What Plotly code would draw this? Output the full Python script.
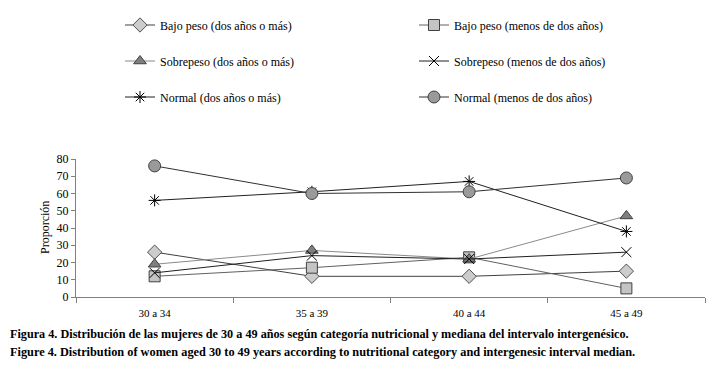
import plotly.graph_objects as go

categories = ["30 a 34", "35 a 39", "40 a 44", "45 a 49"]
bajo_dos = [26, 12, 12, 15]
bajo_menos = [12, 17, 23, 5]
sobre_dos = [19, 27, 22, 47]
sobre_menos = [14, 24, 22, 26]
normal_dos = [56, 61, 67, 38]
normal_menos = [76, 60, 61, 69]

names = [
    "Bajo peso (dos años o más)", "Bajo peso (menos de dos años)",
    "Sobrepeso (dos años o más)", "Sobrepeso (menos de dos años)",
    "Normal (dos años o más)", "Normal (menos de dos años)",
]
series = [bajo_dos, bajo_menos, sobre_dos, sobre_menos, normal_dos, normal_menos]
symbols = ["diamond", "square", "triangle-up", "x-thin", "asterisk", "circle"]
fills = ["#cccccc", "#c4c4c4", "#7f7f7f", "#000000", "#000000", "#9a9a9a"]
linecols = ["#404040", "#606060", "#8a8a8a", "#202020", "#202020", "#303030"]
mline = ["#505050", "#404040", "#404040", "#000000", "#000000", "#404040"]
sizes = [11, 11, 11, 10, 10, 12]

# page body adds an 8px margin, so the figure is sized to fit inside it
W, H = 710, 368
leg_pos = [(112, 17), (406, 17), (112, 53), (406, 53), (112, 89), (406, 89)]

fig = go.Figure()
for i, (nm, vals) in enumerate(zip(names, series)):
    leg = "legend" if i == 0 else f"legend{i+1}"
    fig.add_trace(go.Scatter(
        x=categories, y=vals, name=nm, mode="lines+markers",
        line=dict(color=linecols[i], width=1),
        marker=dict(symbol=symbols[i], size=sizes[i], color=fills[i],
                    line=dict(color=mline[i], width=1)),
        legend=leg,
    ))

font_fam = "Liberation Serif, serif"
legends = {}
for i, (px, py) in enumerate(leg_pos):
    key = "legend" if i == 0 else f"legend{i+1}"
    legends[key] = dict(
        x=px / W, y=1 - py / H, xref="container", yref="container",
        xanchor="left", yanchor="middle",
        font=dict(family=font_fam, size=12, color="#000"),
        bgcolor="rgba(0,0,0,0)", borderwidth=0,
    )

L, R, T, B = 68, 13, 151, 79
fig.update_layout(
    width=W, height=H,
    margin=dict(l=L, r=R, t=T, b=B, autoexpand=False),
    paper_bgcolor="white", plot_bgcolor="white",
    font=dict(family=font_fam, size=11, color="#000"),
    showlegend=True,
    xaxis=dict(
        type="category", tickson="boundaries", ticks="outside", ticklen=5,
        tickcolor="#808080", showline=True, linecolor="#808080", linewidth=1,
        showgrid=False, range=[-0.5, 3.5], zeroline=False, tickangle=0,
        ticklabelstandoff=6,
        tickfont=dict(family=font_fam, size=11),
    ),
    yaxis=dict(
        range=[0, 80], dtick=10, ticks="outside", ticklen=4, tickcolor="#808080",
        showline=True, linecolor="#808080", linewidth=1, showgrid=False,
        zeroline=False, tickfont=dict(family=font_fam, size=12),
    ),
    **legends,
)

pw, ph = W - L - R, H - T - B
fig.add_annotation(
    text="Proporción", textangle=-90,
    xref="paper", yref="paper", x=(37 - L) / pw, y=(H - B - 220) / ph,
    xanchor="center", yanchor="middle", showarrow=False,
    font=dict(family=font_fam, size=12, color="#000"),
)
fig.add_annotation(
    text="<b>Figura 4. Distribución de las mujeres de 30 a 49 años según categoría nutricional y mediana del intervalo intergenésico.</b>",
    xref="paper", yref="paper", x=(0 - L) / pw, y=(H - B - 326) / ph, xanchor="left", yanchor="middle",
    showarrow=False, font=dict(family=font_fam, size=12.2, color="#000"),
)
fig.add_annotation(
    text="<b>Figure 4. Distribution of women aged 30 to 49 years according to nutritional category and intergenesic interval median.</b>",
    xref="paper", yref="paper", x=(0 - L) / pw, y=(H - B - 344) / ph, xanchor="left", yanchor="middle",
    showarrow=False, font=dict(family=font_fam, size=12.3, color="#000"),
)

fig.write_html("out.html")
